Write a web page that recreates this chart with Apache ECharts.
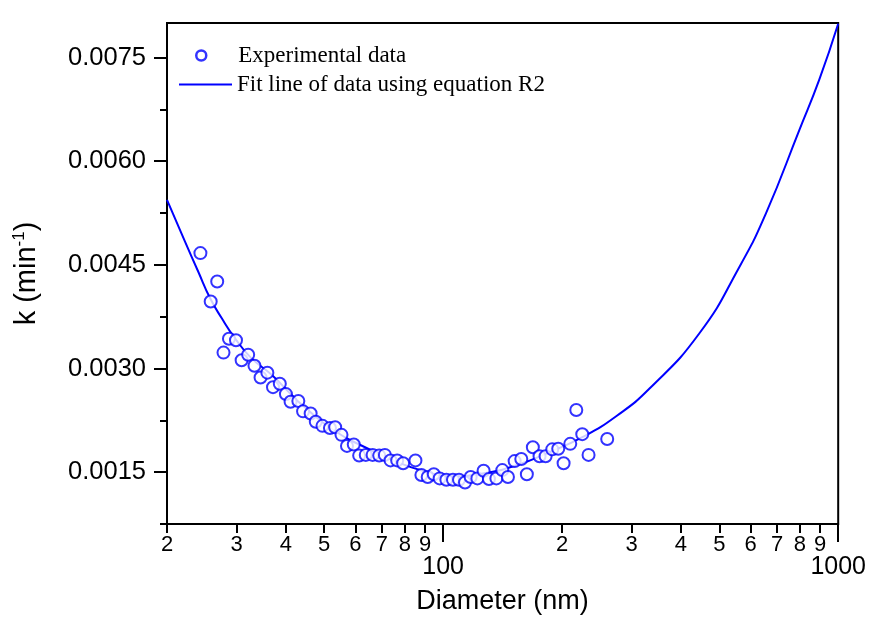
<!DOCTYPE html>
<html>
<head>
<meta charset="utf-8">
<script src="https://cdn.jsdelivr.net/npm/echarts@6/dist/echarts.min.js"></script>
<style>
  html, body { margin: 0; padding: 0; background: #fff; }
  #chart { width: 869px; height: 635px; }
</style>
</head>
<body>
<div id="chart"></div>
<script>
  // experimental points (diameter nm, k min^-1)
  var expD = [24.3, 26.8, 25.8, 27.8, 28.7, 29.9, 30.9, 32.1, 33.3, 34.5, 35.9, 37.1, 38.6, 40.0, 41.1, 43.0,
    44.2, 46.2, 47.6, 49.5, 51.7, 53.3, 55.3, 57.1, 59.4, 61.3, 63.7, 66.3, 68.9, 71.2, 73.6, 76.5, 79.2,
    85.1, 88.1, 91.4, 94.7, 98.0, 101.9, 105.9, 109.7, 113.6, 117.4, 122.1, 126.6, 130.6, 136.4, 141.2,
    145.9, 151.7, 157.7, 162.9, 168.7, 175.4, 181.7, 188.9, 195.6, 201.8, 209.8, 217.3, 225.0, 233.4, 260.2]
  var expK = [0.00467, 0.00426, 0.00397, 0.00323, 0.00343, 0.00341, 0.00312, 0.00320, 0.00304, 0.00287,
    0.00294, 0.00273, 0.00278, 0.00263, 0.00252, 0.00253, 0.00238, 0.00235, 0.00223, 0.00217, 0.00214,
    0.00215, 0.00204, 0.00188, 0.00190, 0.00174, 0.00175, 0.00175, 0.00174, 0.00175, 0.00167, 0.00167,
    0.00163, 0.00167, 0.00146, 0.00143, 0.00147, 0.00141, 0.00139, 0.00139, 0.00139, 0.00135, 0.00143,
    0.00141, 0.00152, 0.00140, 0.00141, 0.00153, 0.00143, 0.00166, 0.00169, 0.00147, 0.00186, 0.00173,
    0.00173, 0.00183, 0.00184, 0.00163, 0.00191, 0.00240, 0.00205, 0.00175, 0.00198]

  // fit line
  var fitD = [20, 22.2, 24.0, 25.7, 27.5, 29.7, 32.7, 36.8, 41.3, 43.4, 52.7, 64.0, 77.7, 90, 104, 126.1,
    153.2, 186.0, 225.8, 274.2, 333.0, 445.4, 562.2, 656.8, 797.2, 895.6, 1000]
  var fitK = [0.00544, 0.00484, 0.00440, 0.00402, 0.00373, 0.00344, 0.00315, 0.00291, 0.00262, 0.00250,
    0.00211, 0.00185, 0.00163, 0.00151, 0.00144, 0.00148, 0.00160, 0.00179, 0.00201, 0.00231, 0.00271,
    0.00351, 0.00447, 0.00525, 0.00645, 0.00718, 0.00799]

  // axis ticks and labels
  var xMinorTicks = [20, 30, 40, 50, 60, 70, 80, 90, 200, 300, 400, 500, 600, 700, 800, 900]
  var xMinorLabels = ['2', '3', '4', '5', '6', '7', '8', '9', '2', '3', '4', '5', '6', '7', '8', '9']
  var xMajorTicks = [100, 1000]
  var xMajorLabels = ['100', '1000']
  var yMajorTicks = [0.0015, 0.0030, 0.0045, 0.0060, 0.0075]
  var yMinorTicks = [0.00075, 0.00225, 0.00375, 0.00525, 0.00675]

  var blue = '#0000ff'
  var sans = 'Liberation Sans, Arial, sans-serif'
  var serif = 'Liberation Serif, Times New Roman, serif'

  var chart = echarts.init(document.getElementById('chart'))

  var pairs = expD.map(function (d, i) { return [d, expK[i]] })
  var fitPairs = fitD.map(function (d, i) { return [d, fitK[i]] })

  function pick(values, texts) {
    return function (v) {
      for (var i = 0; i < values.length; i++) {
        if (Math.abs(values[i] - v) < 0.5) return texts[i]
      }
      return ''
    }
  }

  chart.setOption({
    backgroundColor: '#ffffff',
    animation: false,
    grid: {
      left: 167, right: 30, top: 23, bottom: 111,
      show: true, borderColor: '#000', borderWidth: 2, backgroundColor: 'transparent'
    },
    legend: [{
      left: 195, top: 44, padding: 0,
      itemWidth: 10, itemHeight: 10,
      textStyle: { fontFamily: serif, fontSize: 23, color: '#000', padding: [0, 0, 0, 27] },
      data: [{
        name: 'Experimental data', icon: 'circle',
        itemStyle: { color: '#fff', borderColor: blue, borderWidth: 2.5 }
      }]
    }, {
      left: 179, top: 73, padding: 0,
      itemWidth: 53, itemHeight: 2,
      textStyle: { fontFamily: serif, fontSize: 23, color: '#000' },
      data: [{ name: 'Fit line of data using equation R2', icon: 'rect', itemStyle: { color: blue } }]
    }],
    xAxis: [{
      type: 'log', logBase: 10, min: 20, max: 1000,
      name: 'Diameter (nm)', nameLocation: 'middle', nameGap: 64,
      nameTextStyle: { fontFamily: sans, fontSize: 27, color: '#000' },
      axisLine: { lineStyle: { color: '#000', width: 2 } },
      axisTick: { show: true, length: 9, lineStyle: { color: '#000', width: 2 }, customValues: xMinorTicks },
      splitLine: { show: false },
      minorTick: { show: false },
      axisLabel: {
        customValues: xMinorTicks, margin: 10, hideOverlap: false,
        fontFamily: sans, fontSize: 22, color: '#000',
        formatter: pick(xMinorTicks, xMinorLabels)
      }
    }, {
      type: 'log', logBase: 10, min: 20, max: 1000, position: 'bottom',
      axisLine: { show: false },
      axisTick: { show: true, length: 18, lineStyle: { color: '#000', width: 2 }, customValues: xMajorTicks },
      axisLabel: {
        customValues: xMajorTicks, margin: 31, hideOverlap: false, showMaxLabel: true,
        fontFamily: sans, fontSize: 25, color: '#000',
        formatter: pick(xMajorTicks, xMajorLabels)
      },
      splitLine: { show: false }
    }],
    yAxis: [{
      type: 'value', min: 0.00075, max: 0.008,
      name: 'k (min{sup|-1})', nameLocation: 'middle', nameGap: 124,
      nameTextStyle: {
        fontFamily: sans, fontSize: 29, color: '#000',
        rich: { sup: { fontFamily: sans, fontSize: 17, color: '#000', padding: [0, 0, 15, 0] } }
      },
      axisLine: { show: true, lineStyle: { color: '#000', width: 2 } },
      axisTick: { show: true, length: 13, lineStyle: { color: '#000', width: 2 }, customValues: yMajorTicks },
      splitLine: { show: false },
      axisLabel: {
        customValues: yMajorTicks, margin: 21,
        fontFamily: sans, fontSize: 25.5, color: '#000',
        formatter: function (v) { return v.toFixed(4) }
      }
    }, {
      type: 'value', min: 0.00075, max: 0.008, position: 'left',
      axisLine: { show: false },
      axisTick: { show: true, length: 7, lineStyle: { color: '#000', width: 2 }, customValues: yMinorTicks },
      axisLabel: { show: false },
      splitLine: { show: false }
    }],
    series: [{
      name: 'Experimental data',
      type: 'scatter',
      symbol: 'emptyCircle',
      symbolSize: 12,
      itemStyle: { color: blue, borderColor: blue, borderWidth: 2.5 },
      data: pairs,
      z: 3
    }, {
      name: 'Fit line of data using equation R2',
      type: 'line',
      symbol: 'none',
      smooth: 0.5,
      lineStyle: { color: blue, width: 2 },
      itemStyle: { color: blue },
      data: fitPairs,
      z: 2
    }]
  })
</script>
</body>
</html>
